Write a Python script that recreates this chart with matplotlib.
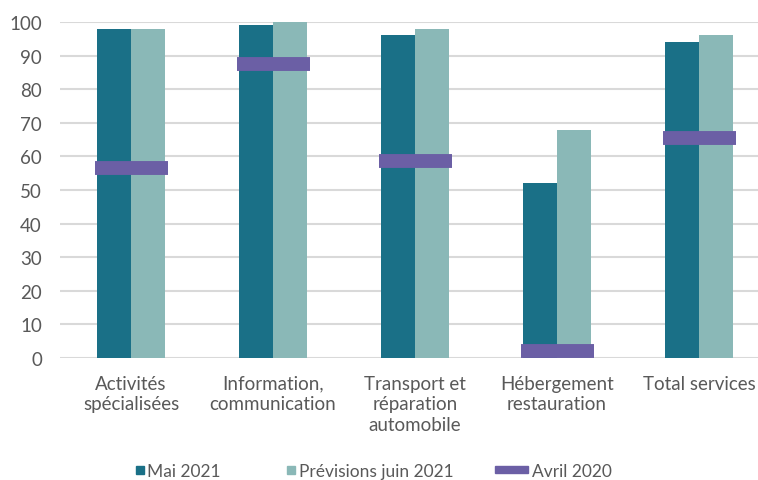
import matplotlib.pyplot as plt
import numpy as np
from matplotlib.patches import Patch, Rectangle
from matplotlib.legend_handler import HandlerBase

plt.rcParams['font.family'] = ['Lato', 'DejaVu Sans']

categories = ["Activités\nspécialisées", "Information,\ncommunication",
              "Transport et\nréparation\nautomobile", "Hébergement\nrestauration",
              "Total services"]
mai_2021 = [98, 99, 96, 52, 94]
prev_juin_2021 = [98, 100, 98, 68, 96]
avril_2020 = [56.5, 87.5, 58.5, 2, 65.5]

c_mai = "#1a7087"
c_prev = "#8ab8b7"
c_avril = "#6b5fa5"
c_text = "#595959"


class RightKey(HandlerBase):
    # legend key drawn at the right end of the handle box
    def __init__(self, color, w_px, h_px):
        super().__init__()
        self.color, self.w_px, self.h_px = color, w_px, h_px

    def create_artists(self, legend, orig, xd, yd, width, height, fontsize, trans):
        k = 100 / 72  # px per point
        w, h = self.w_px / k, self.h_px / k
        r = Rectangle((-xd + width - w, -yd + height / 2 - h / 2), w, h,
                      color=self.color, transform=trans)
        return [r]


def main():
    fig = plt.figure(figsize=(7.58, 4.81), dpi=100)
    ax = fig.add_axes([60 / 758, 1 - 359 / 481, 698 / 758, 336 / 481])

    x = np.arange(len(categories))
    w = 0.24
    ax.bar(x - w / 2, mai_2021, w, color=c_mai, zorder=2)
    ax.bar(x + w / 2, prev_juin_2021, w, color=c_prev, zorder=2)
    ax.hlines(avril_2020, x - 0.257, x + 0.257, color=c_avril, lw=10, zorder=3)

    ax.set_xlim(-0.5, 4.415)
    ax.set_ylim(0, 100)
    ax.set_yticks(range(0, 101, 10))
    ax.set_xticks(x)
    ax.set_xticklabels(categories, fontsize=13.5, color=c_text, linespacing=1.25)
    ax.tick_params(axis="y", labelsize=13.5, labelcolor=c_text, length=0, pad=13)
    ax.tick_params(axis="x", length=0, pad=12)
    ax.yaxis.grid(True, color="#d9d9d9", lw=1.5, zorder=0)
    for s in ax.spines.values():
        s.set_visible(False)
    ax.set_axisbelow(True)

    k_mai = Patch(label="Mai 2021")
    k_prev = Patch(label="Prévisions juin 2021")
    k_avril = Patch(label="Avril 2020")
    fig.legend(handles=[k_mai, k_prev, k_avril], loc="lower center", ncol=3,
               frameon=False, fontsize=12.5, bbox_to_anchor=(0.469, -0.03),
               columnspacing=1.75, handlelength=2.55, handletextpad=0.2,
               labelcolor=c_text,
               handler_map={k_mai: RightKey(c_mai, 8, 8),
                            k_prev: RightKey(c_prev, 8, 8),
                            k_avril: RightKey(c_avril, 33, 7)})

    fig.savefig("out.png", dpi=100)


if __name__ == '__main__':
    main()
